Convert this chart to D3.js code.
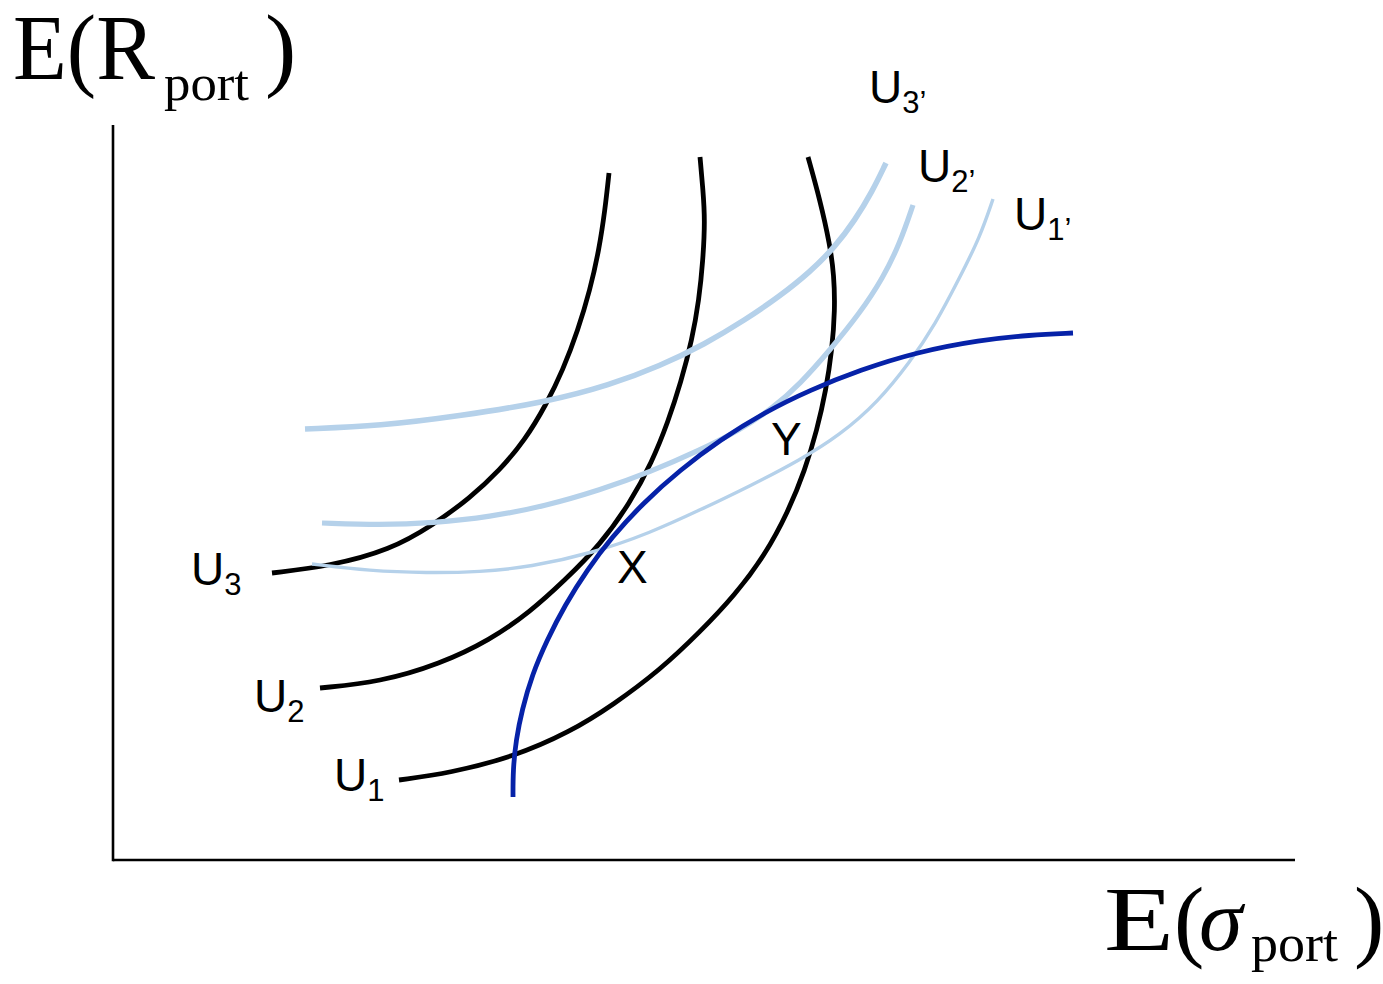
<!DOCTYPE html>
<html>
<head>
<meta charset="utf-8">
<script src="https://cdn.jsdelivr.net/npm/d3@7"></script>
<style>
  html, body { margin: 0; padding: 0; background: #fff; }
  svg { display: block; }
</style>
</head>
<body>
<svg id="chart" width="1383" height="984"></svg>
<script>
// Indifference curves (black), alternative curves (light blue) and the
// efficient frontier (dark blue), in units of expected risk / expected return.
const U1 = [[28.6,8.0],[33.7,8.7],[40.0,10.3],[45.7,12.8],[50.0,15.5],[54.7,19.0],[58.7,22.8],[62.2,26.5],[65.2,30.5],[67.5,34.8],[69.2,39.0],[70.4,43.0],[71.3,47.0],[71.9,51.0],[72.2,55.0],[72.1,58.5],[71.7,61.5],[70.7,66.0],[69.5,70.3]];
const U2 = [[20.7,17.2],[26.7,17.8],[32.7,19.6],[37.7,22.0],[41.7,24.8],[45.2,28.0],[48.7,31.5],[51.7,35.7],[53.9,39.8],[55.5,43.8],[56.8,47.8],[57.9,52.0],[58.6,56.0],[59.0,60.0],[59.2,64.0],[59.0,67.0],[58.7,70.3]];
const U3 = [[15.9,28.7],[21.7,29.4],[27.7,31.0],[32.0,33.5],[35.7,36.2],[38.7,39.0],[41.2,42.0],[43.3,45.5],[45.0,49.0],[46.5,53.0],[47.7,57.0],[48.6,61.0],[49.2,65.0],[49.6,68.7]];

const U1p = [[19.9,29.6],[25.7,28.9],[31.4,28.7],[36.7,28.8],[41.7,29.3],[48.0,30.7],[53.7,32.7],[58.7,35.0],[63.7,37.4],[68.7,40.0],[72.7,42.5],[76.5,45.8],[79.7,49.8],[82.2,53.5],[84.7,58.3],[86.7,62.3],[88.0,66.1]];
const U2p = [[20.9,33.7],[26.7,33.5],[32.0,33.7],[37.7,34.3],[43.2,35.4],[48.7,37.0],[53.7,38.8],[58.7,41.0],[62.7,43.0],[66.0,45.2],[68.7,47.6],[71.7,51.0],[74.7,54.7],[77.0,58.2],[78.7,61.7],[80.0,65.5]];
const U3p = [[19.2,43.1],[26.7,43.4],[34.7,44.4],[43.4,45.8],[49.7,47.5],[54.7,49.4],[59.2,51.6],[63.2,54.0],[66.7,56.4],[69.7,58.8],[72.2,61.3],[74.2,64.0],[75.9,66.8],[77.3,69.7]];

const frontier = [[40.0,6.3],[40.0,9.0],[40.3,12.0],[40.9,15.0],[41.9,18.5],[43.4,22.0],[45.2,25.5],[47.4,29.0],[49.9,32.3],[53.0,35.7],[56.7,39.0],[60.7,42.0],[65.2,44.8],[69.7,47.0],[74.7,49.0],[80.4,50.8],[86.7,52.0],[91.7,52.5],[96.0,52.7]];

// Optimal portfolios on the frontier
const optimalPoints = [{ name: "X", x: 48.5, y: 30.8 }, { name: "Y", x: 65.6, y: 44.9 }];

const curveNames = ["U1", "U2", "U3", "U1’", "U2’", "U3’"];

const svg = d3.select("#chart");

const x = d3.scaleLinear().domain([0, 118.2]).range([113, 1295]);
const y = d3.scaleLinear().domain([0, 73.5]).range([860, 125]);

const line = d3.line()
  .x(d => x(d[0]))
  .y(d => y(d[1]))
  .curve(d3.curveBasis);

// Axes: plain lines, no ticks
const gx = svg.append("g").attr("transform", `translate(0,${y(0)})`)
  .call(d3.axisBottom(x).ticks(0).tickSize(0));
gx.select(".domain").attr("stroke", "#000").attr("stroke-width", 2.6).attr("d", `M${x(0)},0H${x(118.2)}`);
const gy = svg.append("g").attr("transform", `translate(${x(0)},0)`)
  .call(d3.axisLeft(y).ticks(0).tickSize(0));
gy.select(".domain").attr("stroke", "#000").attr("stroke-width", 2.6).attr("d", `M0,${y(73.5)}V${y(0) + 1.3}`);

const black = "#000000";
const light = "#b5d1ea";
const navy = "#0622a8";

const series = [
  { name: curveNames[0], pts: U1, color: black, w: 4.8 },
  { name: curveNames[1], pts: U2, color: black, w: 4.8 },
  { name: curveNames[2], pts: U3, color: black, w: 4.8 },
  { name: curveNames[3], pts: U1p, color: light, w: 3.4 },
  { name: curveNames[4], pts: U2p, color: light, w: 5.2 },
  { name: curveNames[5], pts: U3p, color: light, w: 5.6 },
  { name: "frontier", pts: frontier, color: navy, w: 4.8 }
];

svg.append("g").selectAll("path")
  .data(series)
  .join("path")
  .attr("d", d => line(d.pts))
  .attr("fill", "none")
  .attr("stroke", d => d.color)
  .attr("stroke-width", d => d.w)
  .attr("stroke-linecap", "butt");

// Curve labels, placed next to one end of each curve
const sans = "'Liberation Sans', Arial, sans-serif";
const labelSpec = [
  { s: series[0], end: "first", dx: -65, dy: 11 },
  { s: series[1], end: "first", dx: -66, dy: 24 },
  { s: series[2], end: "first", dx: -81, dy: 12 },
  { s: series[3], end: "last", dx: 21, dy: 31 },
  { s: series[4], end: "last", dx: 5, dy: -23 },
  { s: series[5], end: "last", dx: -17, dy: -60 }
];

labelSpec.forEach(l => {
  const p = l.end === "first" ? l.s.pts[0] : l.s.pts[l.s.pts.length - 1];
  const t = svg.append("text")
    .attr("x", x(p[0]) + l.dx)
    .attr("y", y(p[1]) + l.dy)
    .attr("font-family", sans)
    .attr("font-size", 46)
    .attr("fill", "#000");
  t.append("tspan").text(l.s.name[0]);
  t.append("tspan").attr("font-size", 31).attr("dy", 10).text(l.s.name.slice(1));
});

svg.append("g").selectAll("text")
  .data(optimalPoints)
  .join("text")
  .attr("x", d => x(d.x) + (d.name === "X" ? 19 : 2))
  .attr("y", d => y(d.y) + (d.name === "X" ? 31 : 44))
  .attr("font-family", sans)
  .attr("font-size", 46)
  .attr("fill", "#000")
  .text(d => d.name);

// Axis titles
const serif = "'Liberation Serif', 'Times New Roman', serif";
svg.append("text").attr("x", 13).attr("y", 79)
  .attr("font-family", serif).attr("font-size", 94)
  .attr("textLength", 142).attr("lengthAdjust", "spacingAndGlyphs")
  .text("E(R");
svg.append("text").attr("x", 164).attr("y", 100)
  .attr("font-family", serif).attr("font-size", 51)
  .attr("textLength", 85).attr("lengthAdjust", "spacingAndGlyphs")
  .text("port");
svg.append("text").attr("x", 265).attr("y", 79)
  .attr("font-family", serif).attr("font-size", 94)
  .text(")");

svg.append("text").attr("x", 1104).attr("y", 950)
  .attr("font-family", serif).attr("font-size", 91)
  .attr("textLength", 70).attr("lengthAdjust", "spacingAndGlyphs")
  .text("E");
svg.append("text").attr("x", 1174).attr("y", 950)
  .attr("font-family", serif).attr("font-size", 91)
  .text("(");
svg.append("text").attr("x", 1199).attr("y", 950)
  .attr("font-family", serif).attr("font-size", 88)
  .attr("font-style", "italic")
  .text("σ");
svg.append("text").attr("x", 1251).attr("y", 961)
  .attr("font-family", serif).attr("font-size", 52)
  .attr("textLength", 87).attr("lengthAdjust", "spacingAndGlyphs")
  .text("port");
svg.append("text").attr("x", 1354).attr("y", 950)
  .attr("font-family", serif).attr("font-size", 91)
  .text(")");
</script>
</body>
</html>
